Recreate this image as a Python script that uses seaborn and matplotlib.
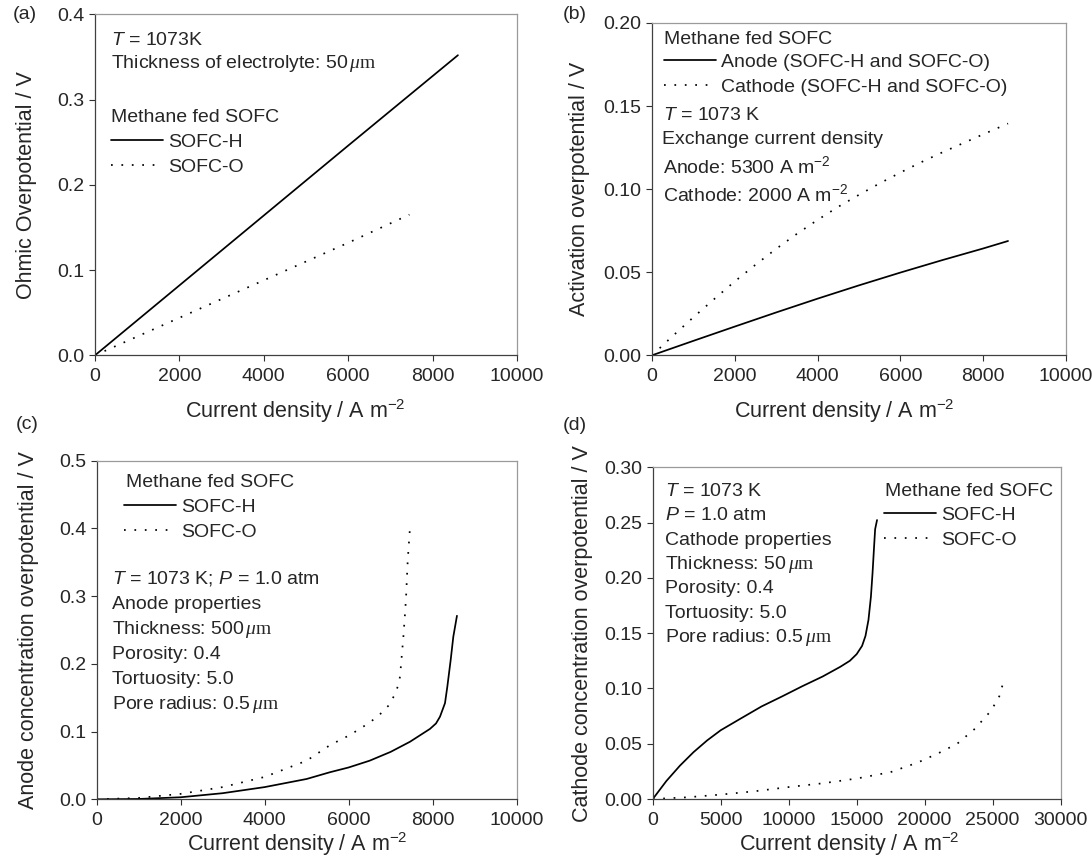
import numpy as np
import matplotlib
matplotlib.use('Agg')
import matplotlib.pyplot as plt
import seaborn as sns

W, H = 1092, 863

# (a) ohmic overpotential
a_i_h = [0, 2000, 4000, 6000, 8600]
a_v_h = [0, 0.082, 0.164, 0.246, 0.352]
a_i_o = [0, 2000, 4000, 6000, 7450]
a_v_o = [0, 0.044, 0.088, 0.132, 0.165]

# (b) activation overpotential
b_i_an = [0, 1000, 2000, 3000, 4000, 5000, 6000, 7000, 8000, 8600]
b_v_an = [0, 0.0087, 0.0173, 0.0258, 0.0341, 0.0421, 0.0498, 0.0572, 0.0643, 0.0688]
b_i_ca = [0, 500, 1000, 1500, 2000, 2500, 3000, 3500, 4000, 4500, 5000, 5500,
          6000, 6500, 7000, 7500, 8000, 8600]
b_v_ca = [0, 0.0116, 0.0229, 0.0338, 0.0445, 0.0545, 0.0641, 0.0731, 0.0815,
          0.0894, 0.0966, 0.1035, 0.1100, 0.1162, 0.1220, 0.1275, 0.1330, 0.1395]

# (c) anode concentration overpotential
c_i_h = [0, 1000, 2000, 3000, 4000, 5000, 5557, 6000, 6500, 7000, 7462, 7938,
         8081, 8176, 8295, 8350, 8431, 8493, 8580]
c_v_h = [0, 0.0005, 0.003, 0.009, 0.018, 0.030, 0.040, 0.047, 0.057, 0.070,
         0.085, 0.104, 0.112, 0.122, 0.142, 0.166, 0.206, 0.240, 0.271]
c_i_o = [0, 1000, 2000, 3000, 4000, 5000, 5557, 6033, 6494, 6731, 6945, 7081,
         7168, 7224, 7263, 7303, 7335, 7367, 7407, 7460]
c_v_o = [0, 0.002, 0.008, 0.018, 0.033, 0.057, 0.080, 0.095, 0.113, 0.1245,
         0.138, 0.1525, 0.166, 0.181, 0.210, 0.239, 0.267, 0.297, 0.352, 0.400]

# (d) cathode concentration overpotential
d_i_h = [0, 1000, 2000, 3000, 4000, 5000, 6500, 8000, 9500, 11000, 12500, 13800,
         14500, 15000, 15400, 15650, 15870, 16050, 16170, 16270, 16360, 16500]
d_v_h = [0, 0.0163, 0.0302, 0.0424, 0.053, 0.0622, 0.0730, 0.0837, 0.0927, 0.1020,
         0.1108, 0.1196, 0.1250, 0.1310, 0.1385, 0.1475, 0.162, 0.183, 0.2045,
         0.2257, 0.244, 0.2523]
d_i_o = [0, 2500, 5000, 7500, 10000, 12500, 15000, 17500, 19500, 21000, 22400,
         23700, 24900, 25500, 25850]
d_v_o = [0, 0.0015, 0.004, 0.007, 0.0108, 0.0142, 0.0185, 0.0243, 0.033, 0.0413,
         0.050, 0.0635, 0.080, 0.093, 0.108]

sns.set_style('ticks')
plt.rcParams.update({
    'font.family': ['Liberation Sans', 'DejaVu Sans'],
    'mathtext.fontset': 'custom',
    'mathtext.rm': 'Liberation Sans',
    'mathtext.it': 'Liberation Sans:italic',
    'mathtext.tt': 'Liberation Serif',
    'mathtext.cal': 'Liberation Serif:italic',
    'xtick.direction': 'out',
    'ytick.direction': 'out',
})

UM = r'$\,\mathcal{\mu}\mathtt{m}$'
DOT = (0, (1, 5))
FS_TXT = 14
FS_TICK = 14
FS_LAB = 15.5
LW = 1.25

fig = plt.figure(figsize=(W / 100, H / 100), dpi=100)


def make_ax(l, t, r, b):
    return fig.add_axes([l / W, 1 - b / H, (r - l) / W, (b - t) / H])


def style(ax, xmax, xstep, ymax, ystep, yfmt, xlab_xy, ylab_x, ylabel):
    ax.set_xlim(0, xmax)
    ax.set_ylim(0, ymax)
    xt = np.arange(0, xmax + 1, xstep)
    ax.set_xticks(xt)
    ax.set_xticklabels([str(int(v)) for v in xt])
    yt = np.arange(0, ymax + ystep / 2, ystep)
    ax.set_yticks(yt)
    ax.set_yticklabels([yfmt.format(v) for v in yt])
    ax.tick_params(length=4.5, width=0.8, color='#303030', labelsize=FS_TICK,
                   top=False, right=False)
    ax.tick_params(axis='x', pad=4.5)
    ax.tick_params(axis='y', pad=3)
    for s in ['top', 'right']:
        ax.spines[s].set_color('#9a9a9a')
        ax.spines[s].set_linewidth(0.9)
    for s in ['left', 'bottom']:
        ax.spines[s].set_color('#404040')
        ax.spines[s].set_linewidth(0.9)
    ax.set_xlabel(r'Current density / A m$^{-2}$', fontsize=FS_LAB)
    ax.xaxis.set_label_coords(*xlab_xy)
    ax.set_ylabel(ylabel, fontsize=FS_LAB)
    ax.yaxis.set_label_coords(ylab_x, 0.5)


def txt(x, y, s, **kw):
    fig.text(x / W, 1 - y / H, s, fontsize=FS_TXT, va='baseline', ha='left', **kw)


def leg(ax, x, top):
    ax.legend(loc='upper left', bbox_to_anchor=(x / W, 1 - top / H),
              bbox_transform=fig.transFigure, frameon=False, fontsize=FS_TXT,
              borderpad=0, borderaxespad=0, handlelength=2.67,
              handletextpad=0.27, labelspacing=0.4)


def curve(ax, x, y, label, dotted=False):
    kw = dict(linestyle=DOT) if dotted else {}
    sns.lineplot(x=x, y=y, ax=ax, color='black', lw=LW, label=label,
                 estimator=None, sort=False, **kw)


# (a)
ax = make_ax(95, 14.3, 517, 355.3)
curve(ax, a_i_h, a_v_h, 'SOFC-H')
curve(ax, a_i_o, a_v_o, 'SOFC-O', dotted=True)
style(ax, 10000, 2000, 0.4, 0.1, '{:.1f}', (0.474, -0.122), -0.1375,
      'Ohmic Overpotential / V')
leg(ax, 111.3, 133)
txt(111, 45, r'$T$ = 1073K')
txt(111, 68.5, 'Thickness of electrolyte: 50' + UM)
txt(111.3, 121.7, 'Methane fed SOFC')

# (b)
ax = make_ax(652, 23, 1066, 355.3)
curve(ax, b_i_an, b_v_an, 'Anode (SOFC-H and SOFC-O)')
curve(ax, b_i_ca, b_v_ca, 'Cathode (SOFC-H and SOFC-O)', dotted=True)
style(ax, 10000, 2000, 0.2, 0.05, '{:.2f}', (0.465, -0.1255), -0.149,
      'Activation overpotential / V')
leg(ax, 663.6, 53)
txt(664.3, 44.3, 'Methane fed SOFC')
txt(662.6, 120, r'$T$ = 1073 K')
txt(662, 144, 'Exchange current density')
txt(662.6, 172.7, r'Anode: 5300 A m$^{-2}$')
txt(662.6, 201, r'Cathode: 2000 A m$^{-2}$')

# (c)
ax = make_ax(96.6, 460.7, 516.6, 799.3)
curve(ax, c_i_h, c_v_h, 'SOFC-H')
curve(ax, c_i_o, c_v_o, 'SOFC-O', dotted=True)
style(ax, 10000, 2000, 0.5, 0.1, '{:.1f}', (0.478, -0.09), -0.137,
      'Anode concentration overpotential / V')
leg(ax, 124, 498)
txt(126, 486.7, 'Methane fed SOFC')
c_lines = [r'$T$ = 1073 K; $P$ = 1.0 atm', 'Anode properties',
           'Thickness: 500' + UM, 'Porosity: 0.4', 'Tortuosity: 5.0',
           'Pore radius: 0.5' + UM]
for k, s in enumerate(c_lines):
    txt(112, 584 + 24.9 * k, s)

# (d)
ax = make_ax(652.8, 467.3, 1060.5, 799)
curve(ax, d_i_h, d_v_h, 'SOFC-H')
curve(ax, d_i_o, d_v_o, 'SOFC-O', dotted=True)
style(ax, 30000, 5000, 0.3, 0.05, '{:.2f}', (0.482, -0.095), -0.1467,
      'Cathode concentration overpotential / V')
leg(ax, 884, 506.3)
txt(884.8, 496, 'Methane fed SOFC')
d_lines = [r'$T$ = 1073 K', r'$P$ = 1.0 atm', 'Cathode properties',
           'Thickness: 50' + UM, 'Porosity: 0.4', 'Tortuosity: 5.0',
           'Pore radius: 0.5' + UM]
for k, s in enumerate(d_lines):
    txt(665, 496 + 24.3 * k, s)

# panel letters
for lab, x, y in [('(a)', 24.5, 14.2), ('(b)', 574.5, 14.2),
                  ('(c)', 26.7, 424.7), ('(d)', 575, 425)]:
    fig.text(x / W, 1 - y / H, lab, fontsize=FS_TXT, ha='center', va='center')

fig.savefig('out.png', dpi=100)
